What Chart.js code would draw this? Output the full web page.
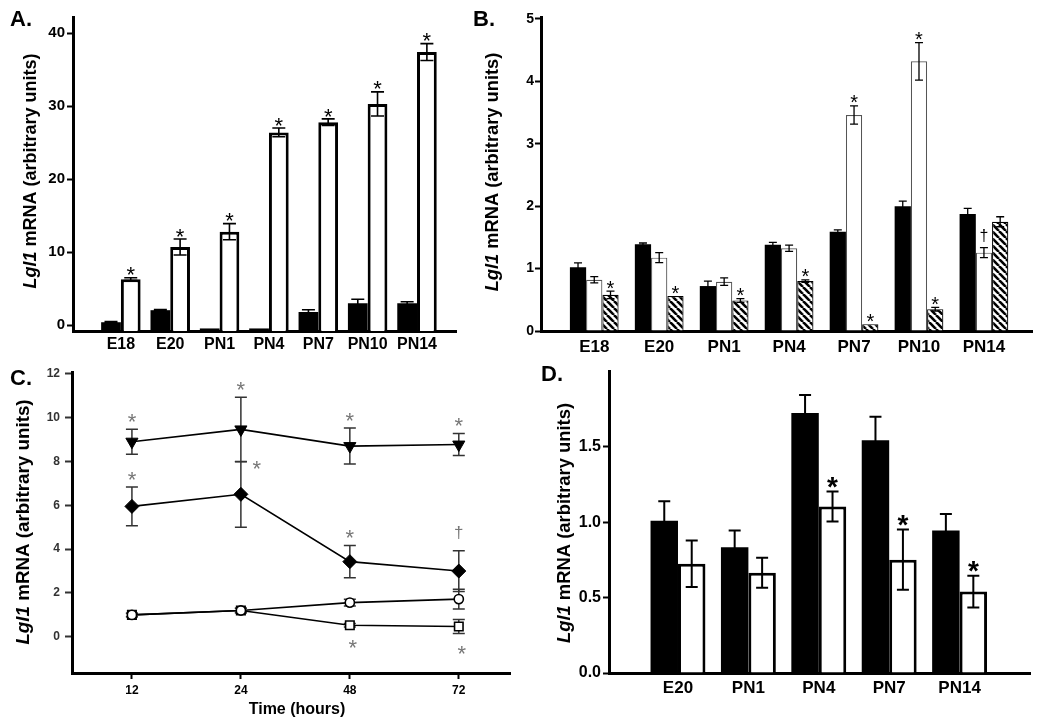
<!DOCTYPE html>
<html>
<head>
<meta charset="utf-8">
<title>Lgl1 mRNA expression</title>
<script src="https://cdn.jsdelivr.net/npm/chart.js@4.4.1/dist/chart.umd.min.js"></script>
<style>
  body { margin: 0; background: #fff; }
  #wrap { position: relative; width: 1050px; height: 726px; overflow: hidden; background: #fff; }
  canvas { position: absolute; }
  #chartA { left: 0; top: 0; }
  #chartB { left: 460px; top: 0; }
  #chartC { left: 0; top: 360px; }
  #chartD { left: 520px; top: 360px; }
</style>
</head>
<body>
<div id="wrap">
  <canvas id="chartA" width="460" height="360"></canvas>
  <canvas id="chartB" width="590" height="360"></canvas>
  <canvas id="chartC" width="520" height="366"></canvas>
  <canvas id="chartD" width="530" height="366"></canvas>
</div>
<script>
const FONT = "'Liberation Sans', Arial, Helvetica, sans-serif";

// ---------- Panel A data ----------
const stagesA = ['E18', 'E20', 'PN1', 'PN4', 'PN7', 'PN10', 'PN14'];
const blackA = [0.4, 2.05, -0.45, -0.45, 1.8, 3.0, 3.0];
const blackErrA = [0.1, 0.1, 0, 0, 0.3, 0.55, 0.2];
const whiteA = [6.3, 10.7, 12.8, 26.4, 27.8, 30.3, 37.4];
const whiteErrA = [0.2, 1.1, 1.1, 0.6, 0.45, 1.65, 1.15];
const whiteMarksA = ['*', '*', '*', '*', '*', '*', '*'];
const ticksA = [0, 10, 20, 30, 40];

// ---------- Panel B data ----------
const stagesB = ['E18', 'E20', 'PN1', 'PN4', 'PN7', 'PN10', 'PN14'];
const blackB = [1.02, 1.39, 0.72, 1.38, 1.59, 2.0, 1.875];
const blackErrB = [0.07, 0.02, 0.08, 0.04, 0.03, 0.08, 0.09];
const whiteB = [0.82, 1.175, 0.79, 1.325, 3.46, 4.32, 1.255];
const whiteErrB = [0.05, 0.08, 0.06, 0.05, 0.145, 0.3, 0.08];
const hatchB = [0.58, 0.56, 0.49, 0.8, 0.11, 0.35, 1.75];
const hatchErrB = [0.06, 0, 0.03, 0.02, 0, 0.03, 0.08];
const whiteMarksB = ['', '', '', '', '*', '*', '†'];
const hatchMarksB = ['*', '*', '*', '*', '*', '*', ''];
const ticksB = [0, 1, 2, 3, 4, 5];

// ---------- Panel C data ----------
const hoursC = ['12', '24', '48', '72'];
const triC = [8.9, 9.46, 8.7, 8.77];
const triErrC = [0.57, 1.47, 0.82, 0.5];
const diaC = [5.95, 6.5, 3.43, 3.0];
const diaErrC = [0.88, 1.5, 0.73, 0.93];
const circC = [1.0, 1.2, 1.56, 1.72];
const circErrC = [0.08, 0.1, 0.15, 0.45];
const sqC = [1.0, 1.2, 0.53, 0.47];
const sqErrC = [0.08, 0.1, 0.08, 0.32];
const triMarksC = ['*', '*', '*', '*'];
const diaMarksC = ['*', '*', '*', '†'];
const diaSidesC = ['up', 'right', 'up', 'up'];
const sqMarksC = ['', '', '*', '*'];
const sqSidesC = ['down', 'down', 'down', 'down'];
const ticksC = [0, 2, 4, 6, 8, 10, 12];

// ---------- Panel D data ----------
const stagesD = ['E20', 'PN1', 'PN4', 'PN7', 'PN14'];
const blackD = [1.01, 0.835, 1.725, 1.545, 0.945];
const blackErrD = [0.13, 0.11, 0.12, 0.155, 0.11];
const whiteD = [0.725, 0.665, 1.105, 0.752, 0.54];
const whiteErrD = [0.155, 0.1, 0.1, 0.2, 0.105];
const whiteMarksD = ['', '', '*', '*', '*'];
const ticksD = [0, 0.5, 1.0, 1.5];


const toXY = arr => arr.map((v, i) => ({ x: i, y: v }));

// diagonal stripes for the third series of panel B
function makeHatch() {
    const c = document.createElement('canvas');
    c.width = 7; c.height = 7;
    const g = c.getContext('2d');
    g.fillStyle = '#fff';
    g.fillRect(0, 0, 7, 7);
    g.strokeStyle = '#000';
    g.lineWidth = 2.6;
    [-7, 0, 7].forEach(o => {
        g.beginPath();
        g.moveTo(o, 0);
        g.lineTo(o + 7, 7);
        g.stroke();
    });
    return g.createPattern(c, 'repeat');
}

//****************  PLUGINS  *****************************************

function drawErrors(chart, opts) {
    const ctx = chart.ctx;
    const yScale = chart.scales.y;
    chart.data.datasets.forEach((ds, i) => {
        if (!ds.errors) return;
        const meta = chart.getDatasetMeta(i);
        ctx.save();
        ctx.strokeStyle = opts.color || '#000';
        ctx.lineWidth = opts.width || 1.5;
        const half = (opts.cap || 10) / 2;
        meta.data.forEach((el, j) => {
            const v = ds.data[j].y;
            const e = ds.errors[j];
            if (!e) return;
            const top = yScale.getPixelForValue(v + e);
            const bot = yScale.getPixelForValue(v - e);
            ctx.beginPath();
            ctx.moveTo(el.x, top); ctx.lineTo(el.x, bot);
            ctx.moveTo(el.x - half, top); ctx.lineTo(el.x + half, top);
            ctx.moveTo(el.x - half, bot); ctx.lineTo(el.x + half, bot);
            ctx.stroke();
        });
        ctx.restore();
    });
}

function drawMarks(chart, opts) {
    const ctx = chart.ctx;
    const yScale = chart.scales.y;
    chart.data.datasets.forEach((ds, i) => {
        if (!ds.marks) return;
        const meta = chart.getDatasetMeta(i);
        ctx.save();
        ctx.fillStyle = opts.markColor || '#000';
        ctx.textAlign = 'center';
        ctx.textBaseline = 'alphabetic';
        meta.data.forEach((el, j) => {
            const m = ds.marks[j];
            if (!m) return;
            const v = ds.data[j].y;
            const e = ds.errors ? ds.errors[j] : 0;
            const side = ds.markSides ? ds.markSides[j] : 'up';
            const dagger = m === '†';
            const size = dagger ? opts.daggerSize : opts.markSize;
            let cx = el.x, cy;
            if (side === 'down') {
                cx = el.x + 3;
                cy = yScale.getPixelForValue(v - e) + opts.markGap + 2;
            } else if (side === 'right') {
                cx = el.x + 16;
                cy = yScale.getPixelForValue(v + e) + 2;
            } else {
                cy = yScale.getPixelForValue(v + e) - (dagger ? opts.daggerGap : opts.markGap);
            }
            ctx.font = `${opts.markWeight || 'normal'} ${size}px ${FONT}`;
            ctx.fillText(m, cx, cy + (dagger ? 0.3 : 0.575) * size);
        });
        ctx.restore();
    });
}

const errorBarPlugin = {
    id: 'errorBars',
    beforeDatasetsDraw(chart, args, opts) {
        if (opts.under) drawErrors(chart, opts);
    },
    afterDatasetsDraw(chart, args, opts) {
        if (!opts.under) drawErrors(chart, opts);
        drawMarks(chart, opts);
    }
};

// panel letter, rotated y title with italic gene name, optional x title
const panelTextPlugin = {
    id: 'panelText',
    afterDraw(chart, args, opts) {
        const ctx = chart.ctx;
        ctx.save();
        ctx.fillStyle = '#000';
        ctx.textAlign = 'left';
        ctx.textBaseline = 'alphabetic';
        ctx.font = `bold 22px ${FONT}`;
        ctx.fillText(opts.letter, opts.letterX, opts.letterY);

        const f1 = `italic bold ${opts.titleSize}px ${FONT}`;
        const f2 = `bold ${opts.titleSize}px ${FONT}`;
        ctx.font = f1;
        const w1 = ctx.measureText('Lgl1').width;
        ctx.font = f2;
        const w2 = ctx.measureText(' mRNA (arbitrary units)').width;
        ctx.translate(opts.titleX, opts.titleY);
        ctx.rotate(-Math.PI / 2);
        ctx.textBaseline = 'middle';
        const x0 = -(w1 + w2) / 2;
        ctx.font = f1;
        ctx.fillText('Lgl1', x0, 0);
        ctx.font = f2;
        ctx.fillText(' mRNA (arbitrary units)', x0 + w1, 0);
        ctx.restore();

        if (opts.xTitle) {
            ctx.save();
            ctx.fillStyle = '#000';
            ctx.font = `bold 16px ${FONT}`;
            ctx.textAlign = 'center';
            ctx.textBaseline = 'middle';
            ctx.fillText(opts.xTitle, opts.xTitleX, opts.xTitleY);
            ctx.restore();
        }
    }
};

// shared axis builders
function categoryAxis(labels, min, max, height, fontSize, padding, tickLen) {
    return {
        type: 'linear',
        min: min,
        max: max,
        offset: false,
        grid: { display: true, offset: false, drawOnChartArea: false, drawTicks: !!tickLen, tickLength: tickLen || 0, tickWidth: 2, tickColor: '#000' },
        border: { display: true, color: '#000', width: 3 },
        afterBuildTicks: s => { s.ticks = labels.map((_, i) => ({ value: i })); },
        ticks: {
            autoSkip: false,
            maxRotation: 0,
            color: '#000',
            padding: padding,
            font: { family: FONT, size: fontSize, weight: 'bold' },
            callback: v => labels[v]
        },
        afterFit: s => { s.height = height; }
    };
}

function valueAxis(tickValues, min, max, width, fontSize, padding, tickLen, digits, color) {
    return {
        min: min,
        max: max,
        grid: { display: true, drawOnChartArea: false, drawTicks: true, tickLength: tickLen, tickWidth: 2, tickColor: color },
        border: { display: true, color: '#000', width: 3 },
        afterBuildTicks: s => { s.ticks = tickValues.map(v => ({ value: v })); },
        ticks: {
            color: color,
            padding: padding,
            font: { family: FONT, size: fontSize, weight: 'bold' },
            callback: v => v.toFixed(digits)
        },
        afterFit: s => { s.width = width; }
    };
}

//****************  PANEL A  *****************************************

new Chart(document.getElementById('chartA'), {
    type: 'bar',
    data: {
        datasets: [
            {
                label: 'Control',
                data: toXY(blackA),
                errors: blackErrA,
                base: -0.8,
                backgroundColor: '#000',
                borderWidth: 0
            },
            {
                label: 'Treated',
                data: toXY(whiteA),
                errors: whiteErrA,
                marks: whiteMarksA,
                base: -0.8,
                backgroundColor: '#fff',
                borderColor: '#000',
                borderWidth: 3
            }
        ]
    },
    options: {
        responsive: false,
        animation: false,
        layout: { padding: { left: 0, top: 17, right: 4, bottom: 0 } },
        datasets: { bar: { categoryPercentage: 0.8, barPercentage: 1.0 } },
        plugins: {
            legend: { display: false },
            tooltip: { enabled: false },
            errorBars: { cap: 13, width: 1.6, markSize: 22, markGap: 8, daggerSize: 16, daggerGap: 10 },
            panelText: { letter: 'A.', letterX: 10, letterY: 26, titleX: 31, titleY: 171, titleSize: 18 }
        },
        scales: {
            x: categoryAxis(stagesA, -0.97, 6.79, 29, 16, 4, 0),
            y: valueAxis(ticksA, -0.8, 42.2, 73, 15, 2, 6, 0, '#000')
        }
    },
    plugins: [errorBarPlugin, panelTextPlugin]
});

//****************  PANEL B  *****************************************

new Chart(document.getElementById('chartB'), {
    type: 'bar',
    data: {
        datasets: [
            {
                label: 'Black',
                data: toXY(blackB),
                errors: blackErrB,
                backgroundColor: '#000',
                borderWidth: 0
            },
            {
                label: 'White',
                data: toXY(whiteB),
                errors: whiteErrB,
                marks: whiteMarksB,
                backgroundColor: '#fff',
                borderColor: '#555',
                borderWidth: 1.2
            },
            {
                label: 'Hatched',
                data: toXY(hatchB),
                errors: hatchErrB,
                marks: hatchMarksB,
                backgroundColor: makeHatch(),
                borderColor: '#000',
                borderWidth: 1.2
            }
        ]
    },
    options: {
        responsive: false,
        animation: false,
        layout: { padding: { left: 0, top: 17, right: 18, bottom: 0 } },
        datasets: { bar: { categoryPercentage: 0.75, barPercentage: 1.0 } },
        plugins: {
            legend: { display: false },
            tooltip: { enabled: false },
            errorBars: { cap: 8, width: 1.3, markSize: 20, markGap: 8, daggerSize: 16, daggerGap: 11 },
            panelText: { letter: 'B.', letterX: 13, letterY: 26, titleX: 33, titleY: 172, titleSize: 18.3 }
        },
        scales: {
            x: categoryAxis(stagesB, -0.82, 6.74, 29, 17, 6, 0),
            y: valueAxis(ticksB, 0, 5.03, 81, 14, 1, 6, 0, '#000')
        }
    },
    plugins: [errorBarPlugin, panelTextPlugin]
});

//****************  PANEL C  *****************************************

const lineStyle = { borderColor: '#000', borderWidth: 1.6, tension: 0, fill: false, pointBorderColor: '#000' };

new Chart(document.getElementById('chartC'), {
    type: 'line',
    data: {
        datasets: [
            Object.assign({
                label: 'Circle',
                data: toXY(circC),
                errors: circErrC,
                pointStyle: 'circle',
                pointRadius: 4.6,
                pointBackgroundColor: '#fff',
                pointBorderWidth: 1.6
            }, lineStyle),
            Object.assign({
                label: 'Square',
                data: toXY(sqC),
                errors: sqErrC,
                marks: sqMarksC,
                markSides: sqSidesC,
                pointStyle: 'rect',
                pointRadius: 6,
                pointBackgroundColor: '#fff',
                pointBorderWidth: 1.6
            }, lineStyle),
            Object.assign({
                label: 'Diamond',
                data: toXY(diaC),
                errors: diaErrC,
                marks: diaMarksC,
                markSides: diaSidesC,
                pointStyle: 'rectRot',
                pointRadius: 7,
                pointBackgroundColor: '#000',
                pointBorderWidth: 1
            }, lineStyle),
            Object.assign({
                label: 'Triangle',
                data: toXY(triC),
                errors: triErrC,
                marks: triMarksC,
                pointStyle: 'triangle',
                pointRotation: 180,
                pointRadius: 7,
                pointBackgroundColor: '#000',
                pointBorderWidth: 1
            }, lineStyle)
        ]
    },
    options: {
        responsive: false,
        animation: false,
        layout: { padding: { left: 0, top: 7, right: 10, bottom: 0 } },
        plugins: {
            legend: { display: false },
            tooltip: { enabled: false },
            errorBars: { under: true, color: '#333', cap: 12, width: 1.5, markColor: '#777', markSize: 22, markGap: 13, daggerSize: 17, daggerGap: 18 },
            panelText: { letter: 'C.', letterX: 10, letterY: 25, titleX: 24, titleY: 162, titleSize: 18.8,
                         xTitle: 'Time (hours)', xTitleX: 297, xTitleY: 350 }
        },
        scales: {
            x: categoryAxis(hoursC, -0.55, 3.47, 53, 12, 4, 6),
            y: valueAxis(ticksC, -1.65, 12.07, 72, 12, 5, 7, 0, '#333')
        }
    },
    plugins: [errorBarPlugin, panelTextPlugin]
});

//****************  PANEL D  *****************************************

new Chart(document.getElementById('chartD'), {
    type: 'bar',
    data: {
        datasets: [
            {
                label: 'Black',
                data: toXY(blackD),
                errors: blackErrD,
                backgroundColor: '#000',
                borderWidth: 0
            },
            {
                label: 'White',
                data: toXY(whiteD),
                errors: whiteErrD,
                marks: whiteMarksD,
                backgroundColor: '#fff',
                borderColor: '#000',
                borderWidth: 3
            }
        ]
    },
    options: {
        responsive: false,
        animation: false,
        layout: { padding: { left: 0, top: 7, right: 20, bottom: 0 } },
        datasets: { bar: { categoryPercentage: 0.78, barPercentage: 1.0 } },
        plugins: {
            legend: { display: false },
            tooltip: { enabled: false },
            errorBars: { cap: 12, width: 2, markSize: 28, markWeight: 'bold', markGap: 12, daggerSize: 18, daggerGap: 12 },
            panelText: { letter: 'D.', letterX: 21, letterY: 21, titleX: 45, titleY: 163, titleSize: 18.4 }
        },
        scales: {
            x: categoryAxis(stagesD, -0.98, 5.0, 53, 17, 5, 0),
            y: valueAxis(ticksD, 0, 2.0, 89, 16, 2, 6, 1, '#000')
        }
    },
    plugins: [errorBarPlugin, panelTextPlugin]
});
</script>
</body>
</html>
